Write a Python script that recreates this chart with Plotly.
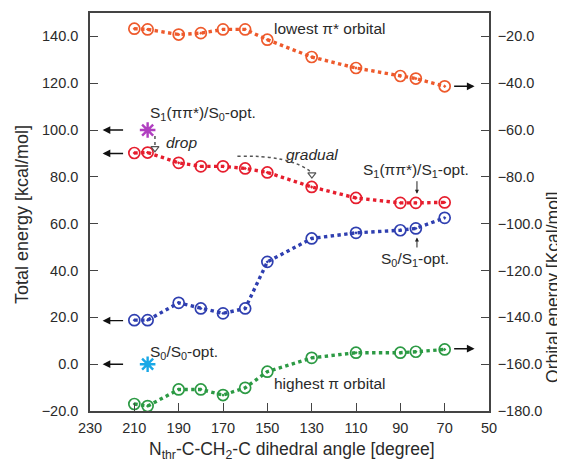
import plotly.graph_objects as go

angles = [210, 204, 190, 180, 170, 160, 150, 130, 110, 90, 83, 70]
lumo_orbital = [-16.7, -17.0, -19.2, -18.6, -17.0, -17.0, -21.4, -28.8, -33.5, -36.9, -38.0, -41.3]
s1_energy = [90.2, 90.4, 86.0, 84.5, 84.5, 83.6, 81.9, 75.7, 71.0, 68.9, 68.9, 69.1]
s0_energy = [18.8, 18.8, 26.2, 23.8, 21.7, 23.8, 43.7, 53.7, 56.1, 57.2, 58.0, 62.5]
homo_orbital = [-177.0, -177.9, -170.8, -170.8, -173.2, -170.1, -163.2, -157.3, -155.1, -155.1, -154.7, -153.7]

s1_s0opt = (204, 100.0)
s0_s0opt = (204, 0.0)

x_ticks = [230, 210, 190, 170, 150, 130, 110, 90, 70, 50]
left_ticks = [-20, 0, 20, 40, 60, 80, 100, 120, 140]
right_ticks = [-180, -160, -140, -120, -100, -80, -60, -40, -20]

FONT = "Liberation Sans, Arial, sans-serif"
TXT = "#2a2a2a"
FS_TICK = 14.5
FS_ANN = 15.5
FS_TITLE = 17.5

fig = go.Figure()

def series(y, color, yaxis):
    fig.add_trace(go.Scatter(
        x=angles, y=y, mode="lines+markers", yaxis=yaxis,
        line=dict(color=color, width=3.4, dash="dot"),
        marker=dict(symbol="circle-open-dot", size=11, color=color,
                    line=dict(color=color, width=1.7)),
        showlegend=False, hoverinfo="skip"))

series(lumo_orbital, "#ee5a2c", "y2")
series(s1_energy, "#e61e2e", "y")
series(s0_energy, "#2f3fb0", "y")
series(homo_orbital, "#2c9a44", "y2")

fig.add_trace(go.Scatter(x=[s1_s0opt[0]], y=[s1_s0opt[1]], mode="markers",
                         marker=dict(symbol="asterisk-open", size=13, color="#b03fc0",
                                     line=dict(color="#b03fc0", width=2.4)),
                         showlegend=False, hoverinfo="skip"))
fig.add_trace(go.Scatter(x=[s0_s0opt[0]], y=[s0_s0opt[1]], mode="markers",
                         marker=dict(symbol="asterisk-open", size=13, color="#1aa8e6",
                                     line=dict(color="#1aa8e6", width=2.4)),
                         showlegend=False, hoverinfo="skip"))

# "drop" dotted arrow
fig.add_trace(go.Scatter(x=[200.7, 200.7], y=[97.5, 93.0], mode="lines",
                         line=dict(color="#555", width=1.5, dash="dot"),
                         showlegend=False, hoverinfo="skip"))
fig.add_trace(go.Scatter(x=[200.7], y=[92.2], mode="markers",
                         marker=dict(symbol="triangle-down-open", size=7, color="#555",
                                     line=dict(width=1.2, color="#555")),
                         showlegend=False, hoverinfo="skip"))
# "gradual" curved dotted arrow
fig.add_shape(type="path", xref="x", yref="y",
              path="M 163.5,88.8 Q 140,89.5 130.2,82.0",
              line=dict(color="#555", width=1.5, dash="dot"))
fig.add_trace(go.Scatter(x=[129.9], y=[81.0], mode="markers",
                         marker=dict(symbol="triangle-down-open", size=7, color="#555",
                                     line=dict(width=1.2, color="#555")),
                         showlegend=False, hoverinfo="skip"))

ann = []
def text(x, y, t, yref="y", italic=False, size=FS_ANN):
    ann.append(dict(x=x, y=y, xref="x", yref=yref, text=("<i>%s</i>" % t) if italic else t,
                    showarrow=False, font=dict(family=FONT, size=size, color=TXT)))

def arrow(x, y, ax, ay, yref="y"):
    ann.append(dict(x=x, y=y, xref="x", yref=yref, ax=ax, ay=ay, axref="x", ayref=yref,
                    text="", showarrow=True, arrowhead=2, arrowsize=1.1, arrowwidth=1.4,
                    arrowcolor="#111"))

text(121.7, 143.4, "lowest π* orbital")
text(179.2, 107.2, "S<sub>1</sub>(ππ*)/S<sub>0</sub>-opt.")
text(188.5, 94.7, "drop", italic=True)
text(129.8, 89.6, "gradual", italic=True)
text(82.9, 82.8, "S<sub>1</sub>(ππ*)/S<sub>1</sub>-opt.")
text(83.4, 44.9, "S<sub>0</sub>/S<sub>1</sub>-opt.")
text(187.4, 4.9, "S<sub>0</sub>/S<sub>0</sub>-opt.")
text(121.7, -8.1, "highest π orbital")

# small pointers
ann.append(dict(x=82.5, y=72.8, xref="x", yref="y", ax=82.5, ay=78.8, axref="x", ayref="y",
                text="", showarrow=True, arrowhead=2, arrowsize=0.8, arrowwidth=1,
                arrowcolor="#222"))
ann.append(dict(x=82.5, y=54.1, xref="x", yref="y", ax=82.5, ay=49.2, axref="x", ayref="y",
                text="", showarrow=True, arrowhead=2, arrowsize=0.8, arrowwidth=1,
                arrowcolor="#222"))

# axis-pointing arrows
for yv in [100.0, 90.0, 18.6, 0.0]:
    arrow(224.3, yv, 214.4, yv)
arrow(56.5, -41.3, 66.4, -41.3, yref="y2")
arrow(56.5, -153.4, 66.4, -153.4, yref="y2")

# axis titles
ann.append(dict(xref="paper", yref="paper", x=-0.1704, y=0.4925, text="Total energy [kcal/mol]",
                textangle=-90, showarrow=False, xanchor="center", yanchor="middle",
                font=dict(family=FONT, size=FS_TITLE + 0.5, color=TXT)))
ann.append(dict(xref="paper", yref="paper", x=1.1604, y=0.3116, text="Orbital energy [Kcal/mol]",
                textangle=-90, showarrow=False, xanchor="center", yanchor="middle",
                font=dict(family=FONT, size=FS_TITLE, color=TXT)))
ann.append(dict(xref="paper", yref="paper", x=0.506, y=-0.098,
                text="N<sub>thr</sub>-C-CH<sub>2</sub>-C dihedral angle [degree]",
                showarrow=False, xanchor="center", yanchor="middle",
                font=dict(family=FONT, size=FS_TITLE, color=TXT)))

common = dict(ticks="inside", ticklen=8, tickcolor="#444", showline=True, linecolor="#444",
              linewidth=1.5, showgrid=False, zeroline=False, automargin=False,
              tickfont=dict(family=FONT, size=FS_TICK, color=TXT))

# the page body adds an 8px offset; size the figure so the plot area lands where the
# reference has it (x 90..489, y 13..411 in the 565x466 window)
fig.update_layout(
    width=557, height=458,
    margin=dict(l=82, r=76, t=5, b=55, autoexpand=False),
    paper_bgcolor="white", plot_bgcolor="white",
    font=dict(family=FONT, size=FS_TICK, color=TXT),
    annotations=ann,
    xaxis=dict(range=[230, 50], tickvals=x_ticks, mirror=True, ticklabelstandoff=3, **common),
    yaxis=dict(range=[-20, 150], tickvals=left_ticks, tickformat=".1f",
               ticklabelstandoff=7, **common),
    yaxis2=dict(range=[-180, -10], tickvals=right_ticks, tickformat=".1f",
                overlaying="y", side="right", ticklabelstandoff=4, **common),
)

fig.write_html("out.html")
